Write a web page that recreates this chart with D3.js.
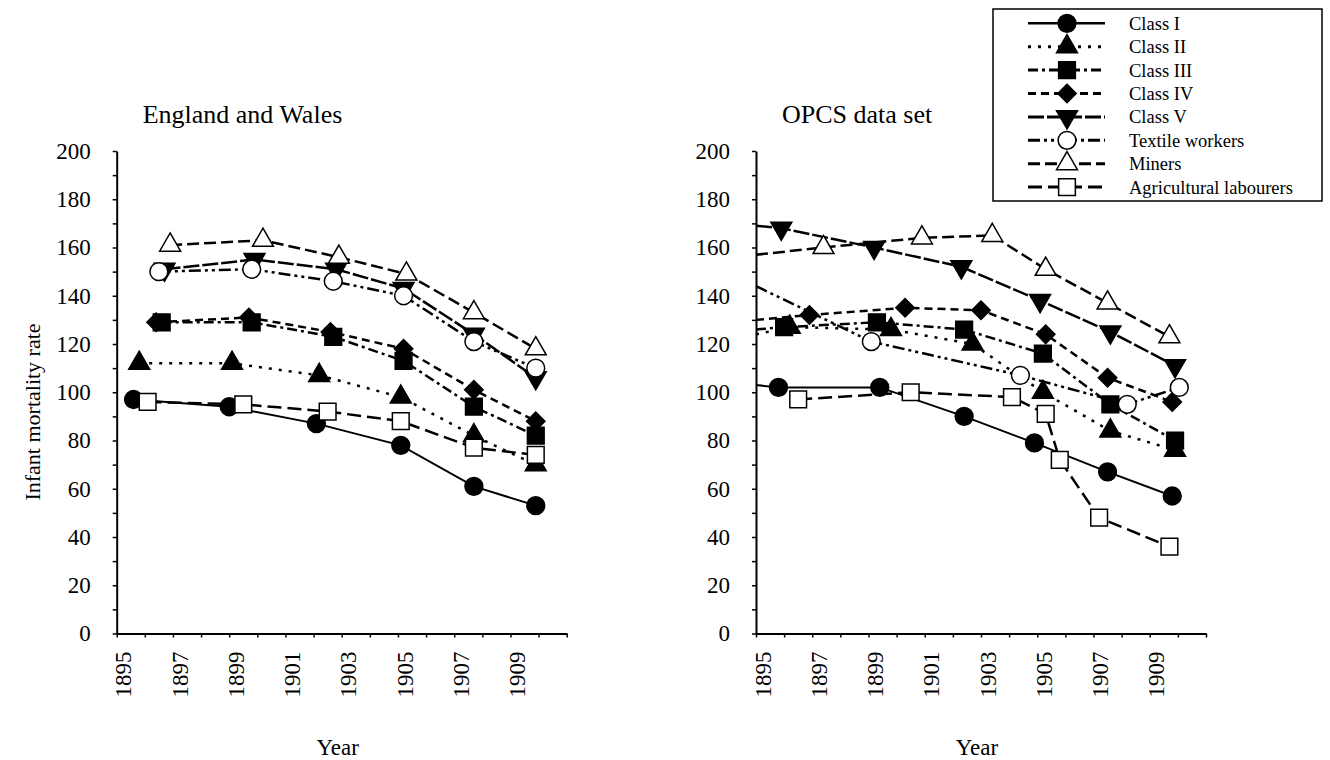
<!DOCTYPE html>
<html>
<head>
<meta charset="utf-8">
<script src="https://cdn.jsdelivr.net/npm/d3@7"></script>
<style>
  body { margin: 0; background: #fff; }
  svg, svg text { font-family: "Liberation Serif", "Times New Roman", serif; fill: #000; }
  .axis path, .axis line { stroke: #000; }
  .axis .domain { stroke-width: 2; }
  .axis .tick line { stroke-width: 1.5; }
</style>
</head>
<body>
<div id="viz"></div>
<script>
var seriesNames = ["Class I", "Class II", "Class III", "Class IV", "Class V",
                   "Textile workers", "Miners", "Agricultural labourers"];

// England and Wales (year mid-points, rate per 1000)
var ewYears = [
  [1895.6, 1899.0, 1902.1, 1905.1, 1907.7, 1909.9],
  [1895.8, 1899.1, 1902.2, 1905.1, 1907.7, 1909.9],
  [1896.6, 1899.8, 1902.7, 1905.2, 1907.7, 1909.9],
  [1896.4, 1899.7, 1902.6, 1905.2, 1907.7, 1909.9],
  [1896.7, 1899.9, 1902.8, 1905.2, 1907.7, 1909.9],
  [1896.5, 1899.8, 1902.7, 1905.2, 1907.7, 1909.9],
  [1896.9, 1900.2, 1902.9, 1905.3, 1907.7, 1909.9],
  [1896.1, 1899.5, 1902.5, 1905.1, 1907.7, 1909.9]
];
var ewRates = [
  [97, 94, 87, 78, 61, 53],
  [112, 112, 107, 98, 82, 70],
  [129, 129, 123, 113, 94, 82],
  [129, 131, 125, 118, 101, 88],
  [151, 155, 151, 143, 124, 106],
  [150, 151, 146, 140, 121, 110],
  [161, 163, 156, 149, 133, 118],
  [96, 95, 92, 88, 77, 74]
];

// OPCS data set
var opcsYears = [
  [1895.8, 1899.4, 1902.4, 1904.9, 1907.5, 1909.8],
  [1896.2, 1899.8, 1902.7, 1905.2, 1907.6, 1909.9],
  [1896.0, 1899.3, 1902.4, 1905.2, 1907.6, 1909.9],
  [1896.9, 1900.3, 1903.0, 1905.3, 1907.5, 1909.8],
  [1895.9, 1899.2, 1902.3, 1905.1, 1907.6, 1909.9],
  [1899.1, 1904.4, 1908.2, 1910.05],
  [1897.4, 1900.9, 1903.4, 1905.3, 1907.5, 1909.7],
  [1896.5, 1900.5, 1904.1, 1905.3, 1905.8, 1907.2, 1909.7]
];
var opcsRates = [
  [102, 102, 90, 79, 67, 57],
  [127, 126, 120, 100, 84, 76],
  [127, 129, 126, 116, 95, 80],
  [132, 135, 134, 124, 106, 96],
  [168, 160, 152, 138, 125, 111],
  [121, 107, 95, 102],
  [160, 164, 165, 151, 137, 123],
  [97, 100, 98, 91, 72, 48, 36]
];
// value where each OPCS line meets the y axis (line enters from before 1895)
var opcsStart = [103, 124, 126, 130, 169, 144, 157, null];

var yTickValues = d3.range(0, 201, 10);
var xTickValues = d3.range(1895, 1912, 1);

// styles
var dashes = ["none", "3,7", "10,4,3,4", "8,5", "16,3", "12,4,3,4,3,4", "12,5", "14,6"];
var shapes = [d3.symbolCircle, d3.symbolTriangle, d3.symbolSquare, d3.symbolSquare,
              d3.symbolTriangle, d3.symbolCircle, d3.symbolTriangle, d3.symbolSquare];
var sizes = [250, 190, 280, 170, 190, 250, 190, 280];
var rotations = [0, 0, 0, 45, 180, 0, 0, 0];
var filled = [true, true, true, true, true, false, false, false];

var serif = '"Liberation Serif", "Times New Roman", serif';

var width = 1330,
    height = 760;

var svg = d3.select("#viz").append("svg")
    .attr("width", width)
    .attr("height", height)
    .style("font-family", serif);

var y = d3.scaleLinear().domain([0, 200]).range([633.5, 151]);

function drawMarker(g, i, px, py) {
  g.append("path")
      .attr("d", d3.symbol().type(shapes[i]).size(sizes[i])())
      .attr("transform", "translate(" + px + "," + py + ") rotate(" + rotations[i] + ")")
      .attr("fill", filled[i] ? "#000" : "#fff")
      .attr("stroke", "#000")
      .attr("stroke-width", 1.5);
}

function drawPanel(left, title, years, rates, starts) {
  var x = d3.scaleLinear().domain([1895, 1911]).range([left, left + 450]);
  var g = svg.append("g");

  // y axis
  g.append("g")
      .attr("class", "axis")
      .attr("transform", "translate(" + left + ",0)")
      .call(d3.axisLeft(y)
        .tickValues(yTickValues)
        .tickSize(4)
        .tickSizeOuter(0)
        .tickPadding(22)
        .tickFormat(function(d) { return d % 20 === 0 ? d : ""; }))
      .attr("font-family", null)
      .attr("font-size", null)
      .call(function(a) {
        a.selectAll("text")
            .style("font-family", serif)
            .style("font-size", "23px")
            .attr("fill", "#000");
      });

  // x axis
  g.append("g")
      .attr("class", "axis")
      .attr("transform", "translate(0," + y(0) + ")")
      .call(d3.axisBottom(x)
        .tickValues(xTickValues)
        .tickSize(4)
        .tickSizeOuter(0)
        .tickFormat(function(d) { return d % 2 === 1 && d < 1911 ? d : ""; }))
      .attr("font-family", null)
      .attr("font-size", null)
      .call(function(a) {
        a.selectAll("text")
            .style("font-family", serif)
            .style("font-size", "23px")
            .attr("fill", "#000")
            .style("text-anchor", "end")
            .attr("transform", "rotate(-90)")
            .attr("x", -18)
            .attr("y", 6)
            .attr("dy", ".35em");
      });

  g.append("text")
      .attr("x", left + 26)
      .attr("y", 123)
      .style("font-size", "26px")
      .text(title);

  g.append("text")
      .attr("x", left + 221)
      .attr("y", 755)
      .style("text-anchor", "middle")
      .style("font-size", "23px")
      .text("Year");

  var line = d3.line()
      .x(function(d) { return x(d[0]); })
      .y(function(d) { return y(d[1]); });

  seriesNames.forEach(function(name, i) {
    var pts = years[i].map(function(yr, j) { return [yr, rates[i][j]]; });
    var linePts = pts.slice();
    if (starts && starts[i] != null) linePts.unshift([1895, starts[i]]);

    g.append("path")
        .datum(linePts)
        .attr("d", line)
        .attr("fill", "none")
        .attr("stroke", "#000")
        .attr("stroke-width", i === 0 ? 2 : 2.5)
        .attr("stroke-dasharray", dashes[i]);

    pts.forEach(function(p) { drawMarker(g, i, x(p[0]), y(p[1])); });
  });
}

drawPanel(116.7, "England and Wales", ewYears, ewRates, null);
drawPanel(756, "OPCS data set", opcsYears, opcsRates, opcsStart);

svg.append("text")
    .attr("transform", "translate(40,412) rotate(-90)")
    .style("text-anchor", "middle")
    .style("font-size", "22px")
    .text("Infant mortality rate");

// legend
var legend = svg.append("g");
legend.append("rect")
    .attr("x", 993).attr("y", 9)
    .attr("width", 329).attr("height", 192)
    .attr("fill", "#fff")
    .attr("stroke", "#000")
    .attr("stroke-width", 1.5);

seriesNames.forEach(function(name, i) {
  var ly = 23.3 + i * 23.4;
  legend.append("line")
      .attr("x1", 1028).attr("x2", 1105)
      .attr("y1", ly).attr("y2", ly)
      .attr("stroke", "#000")
      .attr("stroke-width", i === 0 ? 2.5 : 3)
      .attr("stroke-dasharray", dashes[i]);
  drawMarker(legend, i, 1067, ly);
  legend.append("text")
      .attr("x", 1129)
      .attr("y", ly)
      .attr("dy", ".35em")
      .style("font-size", "18.5px")
      .text(name);
});
</script>
</body>
</html>
